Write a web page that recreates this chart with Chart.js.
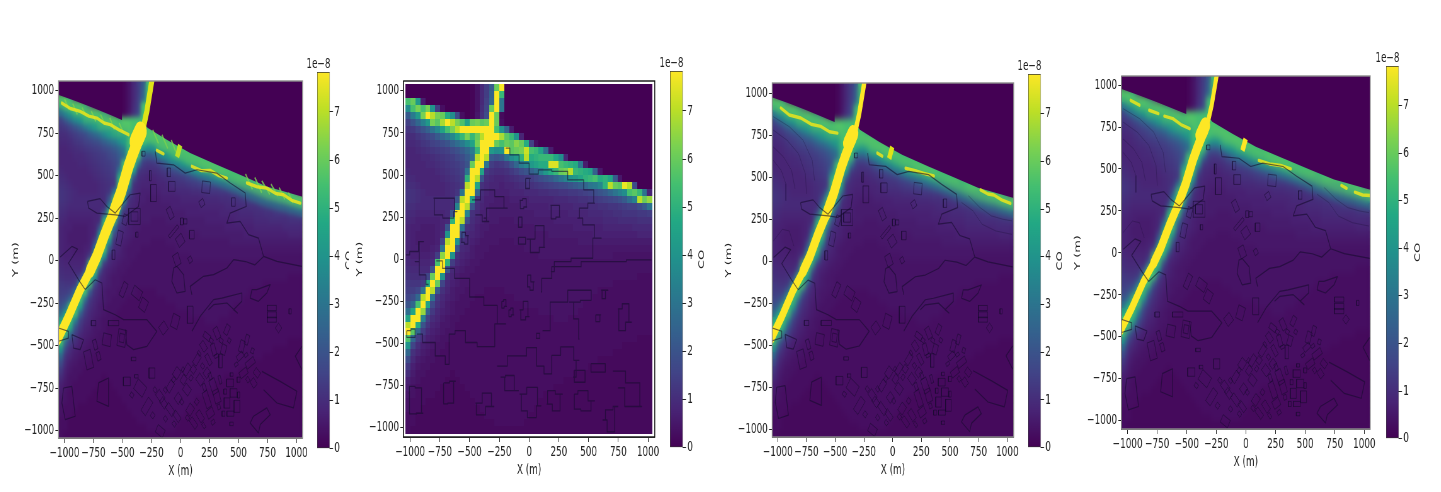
<!DOCTYPE html>
<html>
<head>
<meta charset="utf-8">
<title>CO concentration maps</title>
<script src="https://cdn.jsdelivr.net/npm/chart.js@4"></script>
<style>
  html, body { margin: 0; padding: 0; background: #fff; overflow: hidden; }
  #page { position: relative; width: 1441px; height: 492px; overflow: hidden; }
  canvas { position: absolute; transform-origin: 0 0; }
</style>
</head>
<body>
<div id="page"></div>
<script>
// CO field, 50 x 50 cells, north to south, west to east, in units of 1e-9
const coGrid = [
  [0,0,0,0,0,0,0,0,0,0,0,0,0,1,4,9,14,22,60,78,0,0,0,0,0,0,0,0,0,0,0,0,0,0,0,0,0,0,0,0,0,0,0,0,0,0,0,0,0,0],
  [0,0,0,0,0,0,0,0,0,0,0,0,0,1,4,9,14,24,78,52,0,0,0,0,0,0,0,0,0,0,0,0,0,0,0,0,0,0,0,0,0,0,0,0,0,0,0,0,0,0],
  [55,60,42,6,0,0,0,0,0,0,0,0,0,1,4,9,15,26,78,30,0,0,0,0,0,0,0,0,0,0,0,0,0,0,0,0,0,0,0,0,0,0,0,0,0,0,0,0,0,0],
  [38,55,62,55,62,40,14,3,0,0,0,0,0,1,4,10,16,60,78,30,0,0,0,0,0,0,0,0,0,0,0,0,0,0,0,0,0,0,0,0,0,0,0,0,0,0,0,0,0,0],
  [22,32,42,62,78,70,62,60,48,38,18,3,0,1,5,11,18,78,60,2,0,0,0,0,0,0,0,0,0,0,0,0,0,0,0,0,0,0,0,0,0,0,0,0,0,0,0,0,0,0],
  [15,20,26,34,42,62,58,68,78,70,62,56,45,60,62,58,60,78,60,3,0,0,0,0,0,0,0,0,0,0,0,0,0,0,0,0,0,0,0,0,0,0,0,0,0,0,0,0,0,0],
  [12,13,16,20,24,30,36,45,55,62,70,78,78,78,78,78,78,78,55,40,25,6,0,0,0,0,0,0,0,0,0,0,0,0,0,0,0,0,0,0,0,0,0,0,0,0,0,0,0,0],
  [10,10,12,14,16,18,22,26,30,36,44,52,62,52,60,70,78,78,78,68,58,52,40,8,0,0,0,0,0,0,0,0,0,0,0,0,0,0,0,0,0,0,0,0,0,0,0,0,0,0],
  [9,9,10,12,13,15,16,18,20,24,28,32,38,45,62,78,78,78,60,55,60,58,64,60,48,15,3,0,0,0,0,0,0,0,0,0,0,0,0,0,0,0,0,0,0,0,0,0,0,0],
  [8,8,9,10,11,12,13,14,15,17,19,22,26,32,52,78,78,42,38,40,78,58,60,62,72,55,52,45,28,6,0,0,0,0,0,0,0,0,0,0,0,0,0,0,0,0,0,0,0,0],
  [8,8,8,9,9,10,11,12,13,14,16,18,22,28,70,78,70,22,20,22,30,38,42,50,70,48,50,52,52,52,46,38,8,0,0,0,0,0,0,0,0,0,0,0,0,0,0,0,0,0],
  [8,8,8,8,9,9,10,11,12,13,14,16,20,60,78,78,30,14,12,13,15,20,26,32,36,42,45,48,48,74,74,55,52,50,48,30,6,0,0,0,0,0,0,0,0,0,0,0,0,0],
  [9,8,8,8,8,8,9,10,11,12,13,15,30,78,78,45,13,11,10,10,11,13,15,18,20,24,28,34,42,48,52,60,62,70,52,50,48,46,24,5,0,0,0,0,0,0,0,0,0,0],
  [10,9,8,8,8,8,8,9,10,11,12,14,50,78,70,20,10,9,8,8,9,10,11,12,13,14,16,18,20,22,26,30,34,40,42,46,50,52,55,48,50,46,22,5,0,0,0,0,0,0],
  [11,10,9,8,8,8,8,8,9,10,11,13,70,78,45,11,9,8,8,7,8,8,9,10,11,11,12,13,14,15,16,17,18,20,22,24,26,30,32,36,50,70,60,58,76,70,18,0,0,0],
  [12,11,10,9,8,8,8,8,9,10,12,30,78,78,25,10,8,7,7,7,7,8,8,8,9,9,9,10,10,11,11,12,12,13,13,14,15,16,18,20,22,26,30,34,38,55,58,52,30,8],
  [12,11,10,9,9,9,9,9,9,10,20,70,78,45,11,9,7,7,6,6,6,7,7,7,7,8,8,8,8,8,9,9,9,10,10,11,11,12,13,14,15,16,17,19,22,28,34,70,60,66],
  [11,10,9,9,9,9,9,9,9,10,35,78,70,20,10,8,7,6,6,6,6,6,6,7,7,7,7,7,7,8,8,8,8,8,9,9,9,10,10,11,11,12,12,13,14,15,15,18,22,30],
  [10,9,8,8,8,8,8,8,9,20,78,78,35,11,9,7,7,6,6,6,6,6,6,6,6,6,7,7,7,7,7,7,7,8,8,8,8,9,9,9,10,10,11,11,12,12,12,13,13,14],
  [9,8,7,7,7,7,7,8,9,50,78,70,18,10,8,7,6,6,6,5,5,5,6,6,6,6,6,6,6,6,7,7,7,7,7,7,8,8,8,8,9,9,9,10,10,10,10,11,11,11],
  [8,7,7,6,6,6,7,8,20,78,78,30,11,9,7,6,6,5,5,5,5,5,5,5,5,5,6,6,6,6,6,6,6,6,7,7,7,7,7,7,8,8,8,8,8,8,9,9,9,9],
  [8,7,6,6,6,6,7,9,40,78,78,18,9,8,7,6,5,5,5,5,5,5,5,5,5,5,5,5,5,6,6,6,6,6,6,6,6,6,7,7,7,7,7,7,7,7,7,8,8,8],
  [8,7,6,6,6,6,7,16,70,78,40,11,9,7,6,5,5,5,5,4,4,4,5,5,5,5,5,5,5,5,5,5,5,5,5,6,6,6,6,6,6,6,6,6,6,6,6,6,6,6],
  [8,7,7,6,6,7,8,30,78,78,20,9,8,6,5,5,5,4,4,4,4,4,4,4,5,5,5,5,5,5,5,5,5,5,5,5,5,5,5,5,5,5,5,5,5,5,5,5,5,5],
  [8,7,7,7,7,8,14,65,78,40,11,8,7,6,5,5,4,4,4,4,4,4,4,4,4,4,4,5,5,5,5,5,5,5,5,5,5,5,5,5,5,5,4,4,4,4,4,4,4,4],
  [9,8,8,8,8,10,55,78,50,14,9,7,6,5,5,4,4,4,4,4,4,4,4,4,4,4,4,4,4,4,4,4,4,4,4,4,4,4,4,4,4,4,4,4,4,4,4,4,4,4],
  [10,9,9,9,9,20,78,78,20,9,7,6,5,5,4,4,4,4,4,4,4,4,4,4,4,4,4,4,4,4,4,4,4,4,4,4,4,4,4,4,4,4,4,4,4,4,4,4,4,4],
  [11,10,10,11,16,60,78,40,11,8,6,5,5,4,4,4,4,4,4,4,4,4,4,4,4,4,4,4,4,4,4,4,4,4,4,4,4,4,4,4,4,4,4,4,4,4,4,3,3,3],
  [13,12,12,14,48,78,60,16,9,7,6,5,5,4,4,4,4,4,4,4,4,4,4,4,4,4,4,4,4,4,4,4,4,4,4,4,4,4,4,4,4,4,3,3,3,3,3,3,3,3],
  [14,14,16,30,78,70,22,11,8,6,5,5,4,4,4,4,3,3,3,3,4,4,4,4,4,4,4,4,4,4,4,4,4,4,4,4,4,4,4,3,3,3,3,3,3,3,3,3,3,3],
  [16,18,26,70,78,30,13,9,7,6,5,4,4,4,3,3,3,3,3,3,3,3,4,4,4,4,4,4,4,4,4,4,4,4,4,4,4,4,3,3,3,3,3,3,3,3,3,3,3,3],
  [20,26,55,78,45,17,11,8,6,5,4,4,4,3,3,3,3,3,3,3,3,3,3,3,4,4,4,4,4,4,4,4,4,4,4,4,3,3,3,3,3,3,3,3,3,3,3,3,3,3],
  [28,45,78,66,24,13,9,7,6,5,4,4,3,3,3,3,3,3,3,3,3,3,3,3,3,3,3,4,4,4,4,4,4,4,4,3,3,3,3,3,3,3,3,3,3,3,3,3,3,3],
  [45,78,78,34,15,10,8,6,5,4,4,3,3,3,3,3,3,3,3,3,3,3,3,3,3,3,3,3,3,3,4,4,4,3,3,3,3,3,3,3,3,3,3,3,3,3,3,3,3,3],
  [70,78,48,20,12,8,7,5,5,4,3,3,3,3,3,3,3,3,3,3,3,3,3,3,3,3,3,3,3,3,3,3,3,3,3,3,3,3,3,3,3,3,3,3,3,3,3,3,3,3],
  [78,58,26,14,9,7,6,5,4,4,3,3,3,3,3,3,3,3,3,3,3,3,3,3,3,3,3,3,3,3,3,3,3,3,3,3,3,3,3,3,3,3,3,3,3,3,3,3,3,3],
  [56,26,14,10,7,6,5,4,4,3,3,3,3,3,3,3,3,3,3,3,3,3,3,3,3,3,3,3,3,3,3,3,3,3,3,3,3,3,3,3,3,3,3,3,3,3,3,2,2,2],
  [40,16,10,7,6,5,4,4,3,3,3,3,3,3,3,3,3,3,3,3,3,3,3,3,3,3,3,3,3,3,3,3,3,3,3,3,3,3,3,3,3,3,3,3,2,2,2,2,2,2],
  [26,11,8,6,5,4,4,3,3,3,3,3,3,3,3,3,3,3,3,3,3,3,3,3,3,3,3,3,3,3,3,3,3,3,3,3,3,3,3,3,3,3,2,2,2,2,2,2,2,2],
  [18,9,6,5,4,4,3,3,3,3,3,3,3,3,3,3,3,3,3,3,3,3,3,3,3,3,3,3,3,3,3,3,3,3,3,3,3,3,3,2,2,2,2,2,2,2,2,2,2,2],
  [13,7,5,4,4,3,3,3,3,3,3,3,3,3,3,3,3,3,3,3,3,3,3,3,3,3,3,3,3,3,3,3,3,3,3,3,3,2,2,2,2,2,2,2,2,2,2,2,2,2],
  [10,6,4,4,3,3,3,3,3,2,3,3,3,3,3,3,3,3,3,3,3,3,3,3,3,3,3,3,3,3,3,3,3,3,2,2,2,2,2,2,2,2,2,2,2,2,2,2,2,2],
  [7,5,4,3,3,3,3,3,2,2,2,3,3,3,3,3,3,3,3,3,3,3,3,3,3,3,3,3,3,3,3,3,2,2,2,2,2,2,2,2,2,2,2,2,2,2,2,2,2,2],
  [6,4,3,3,3,3,3,2,2,2,2,2,3,3,3,3,3,3,3,3,3,3,3,3,3,3,3,3,3,3,2,2,2,2,2,2,2,2,2,2,2,2,2,2,2,2,2,2,2,2],
  [5,4,3,3,3,3,2,2,2,2,2,2,2,3,3,3,3,3,3,3,3,3,3,3,3,3,3,3,2,2,2,2,2,2,2,2,2,2,2,2,2,2,2,2,2,2,2,2,2,2],
  [4,3,3,3,2,2,2,2,2,2,2,2,2,2,3,3,3,3,3,3,3,3,3,3,3,3,3,2,2,2,2,2,2,2,2,2,2,2,2,2,2,2,2,2,2,2,2,2,2,2],
  [4,3,3,2,2,2,2,2,2,2,2,2,2,2,2,3,3,3,3,3,3,3,3,3,3,3,2,2,2,2,2,2,2,2,2,2,2,2,2,2,2,2,2,2,2,2,2,2,2,2],
  [3,3,2,2,2,2,2,2,2,2,2,2,2,2,2,2,3,3,3,3,3,3,3,3,3,2,2,2,2,2,2,2,2,2,2,2,2,2,2,2,2,2,2,2,2,2,2,2,2,2],
  [3,3,2,2,2,2,2,2,2,2,2,2,2,2,2,2,2,2,3,3,3,3,3,3,2,2,2,2,2,2,2,2,2,2,2,2,2,2,2,2,2,2,2,2,2,2,2,2,2,2],
  [3,2,2,2,2,2,2,2,2,2,2,2,2,2,2,2,2,2,2,2,2,2,2,2,2,2,2,2,2,2,2,2,2,2,2,2,2,2,2,2,2,2,2,2,2,2,2,2,2,2]
];

const axisTicks = [-1000, -750, -500, -250, 0, 250, 500, 750, 1000];
const colorbarTicks = [0, 1, 2, 3, 4, 5, 6, 7];
const colorbarMax = 7.83;
const viridisStops = ['#440154','#482475','#414487','#355f8d','#2a788e','#21918c','#22a884','#44bf70','#7ad151','#bddf26','#fde725'];

// road centreline in metres, split where the plume changes width
const roadNorth = [[-247,1060],[-290,880],[-319,790],[-350,730]];
const roadJunction = [[-345,760],[-385,700]];
const roadMiddle = [[-350,730],[-376,690],[-415,620],[-448,555],[-510,410],[-578,280]];
const roadSouthUpper = [[-578,280],[-650,160],[-720,30],[-780,-60]];
const roadSouthLower = [[-780,-60],[-865,-170],[-966,-330],[-1060,-465]];

// clean air north of the plume, west and east of the road
const cleanWest = [[-1060,978],[-894,937],[-750,898],[-578,849],[-505,828],[-505,1070],[-1060,1070]];
const cleanEast = [[-243,1070],[-305,800],[-285,782],[-118,711],[83,633],[313,564],[543,496],[744,437],[1060,375],[1060,1070]];

// broad plume along the coast road, centre of the bright part and of its teal skirt
const shoreBright = [
  [[-1052,945],[-894,905],[-750,868],[-578,818],[-430,775]],
  [[-285,750],[-118,680],[83,600],[313,535],[543,465],[744,405],[1060,345]]
];
const shoreSkirt = [
  [[-1052,900],[-894,860],[-750,822],[-578,772],[-450,735]],
  [[-285,705],[-118,635],[83,555],[313,490],[543,420],[744,360],[1060,300]]
];

const spikeFirst = [[-3,680],[-30,610]];
const streaksFirst = [
  [[-1023,927],[-950,895],[-865,878],[-790,850],[-721,839],[-660,810],[-606,800],[-530,770],[-448,741]],
  [[-204,649],[-147,629]],
  [[98,555],[180,530],[256,531],[330,500],[399,486]],
  [[572,457],[660,435],[744,427],[820,395],[888,388],[960,355],[1032,339]]
];
const hatchFirst = [
  [[-1000,950],[-960,890]],[[-930,925],[-890,860]],[[-850,900],[-810,850]],[[-770,880],[-730,820]],
  [[-690,860],[-650,800]],[[-610,840],[-570,770]],[[-530,810],[-490,750]],[[-240,770],[-190,690]],
  [[-160,740],[-110,660]],[[-80,710],[-40,640]],[[560,510],[620,420]],[[640,490],[700,400]],
  [[700,470],[770,390]],[[780,450],[840,380]],[[850,430],[900,360]],[[930,400],[970,340]]
];
const streaksThird = [
  [[-974,911],[-900,870],[-800,852],[-710,815],[-626,802],[-550,770],[-481,762]],
  [[-133,643],[-90,625]],
  [[113,553],[190,540],[273,523],[360,507]],
  [[766,424],[830,400],[882,394],[950,365],[1027,344]]
];
const streaksFourth = [
  [[-975,909],[-900,880]],[[-818,850],[-740,830]],[[-690,815],[-618,800],[-550,765],[-476,740]],
  [[108,551],[200,530],[293,521],[379,501]],
  [[806,402],[850,385]],[[920,362],[985,345],[1049,342]]
];

// isolines of the site, in metres
const contourLines = [
  [[-218,643],[-204,574],[-60,564],[40,515],[141,535],[313,515],[428,457],[558,398],[566,319],[428,280],[399,221],[514,231],[586,153],[672,133],[716,25],[831,-4],[1046,-33]],
  [[98,-200],[83,-151],[198,-92],[285,-82],[400,-43],[457,6],[560,-5],[640,-25],[716,25]],
  [[98,-415],[170,-327],[285,-229],[356,-220],[529,-190],[529,-239],[457,-288],[491,-308],[400,-249],[285,-259],[241,-288]],
  [[658,-170],[773,-141],[744,-190],[672,-239],[601,-220],[615,-170],[658,-170]],
  [[-32,-33],[26,-82],[40,-180],[-32,-190],[-75,-122],[-60,-43],[-32,-33]],
  [[-822,-170],[-736,-112],[-678,-131],[-664,-288],[-563,-318],[-491,-347],[-290,-347],[-204,-416],[-290,-504],[-405,-523],[-463,-494],[-477,-406]],
  [[-802,349],[-693,365],[-635,319],[-563,280],[-434,388],[-348,398],[-362,319],[-477,261],[-560,270],[-721,280],[-793,310],[-802,349]],
  [[-1037,22],[-937,84],[-888,69],[-966,-14],[-879,-112],[-822,-170]],
  [[-1009,-749],[-937,-739],[-908,-915],[-994,-935],[-1023,-837],[-1009,-749]],
  [[-937,-435],[-836,-465],[-865,-523],[-922,-514],[-937,-435]],
  [[-707,-719],[-621,-690],[-621,-857],[-721,-827],[-707,-719]],
  [[-1052,-396],[-966,-416],[-966,-455],[-1052,-474]],
  [[701,-651],[859,-710],[1003,-768],[974,-866],[831,-837],[716,-759]],
  [[629,-915],[744,-866],[773,-906],[687,-964],[672,-1013],[600,-955],[629,-915]],
  [[1046,-504],[989,-562],[1046,-641]]
];

// building outlines: centre x, centre y, width, height, turn in degrees
const buildingBoxes = [
  [-100,520,30,50,0],[-75,437,55,58,0],[220,432,70,68,-5],[184,339,40,40,30],[457,345,30,50,0],[-397,260,100,95,0],[-397,260,60,55,0],
  [-89,280,40,70,30],[-60,172,100,20,40],[11,231,25,40,0],[40,231,30,30,0],[-3,120,60,60,35],[98,153,40,50,0],[-32,6,50,70,25],[83,6,30,35,30],
  [-526,133,45,85,-15],[-578,35,25,55,0],[-477,241,40,60,-20],[-376,153,20,30,0],[-233,398,50,100,0],[-319,629,28,28,0],[-260,500,15,60,0],
  [-491,-170,40,90,-30],[-376,-190,80,60,-30],[-319,-259,60,70,-30],[-750,-367,40,30,0],[-578,-367,90,30,0],[-506,-455,70,100,-10],[-506,-455,40,50,-10],
  [-635,-465,70,70,-10],[-736,-494,30,60,20],[-793,-582,60,110,15],[-707,-562,30,50,20],[-405,-578,40,20,0],[-147,-396,60,60,40],[-46,-357,60,80,-20],
  [83,-318,50,100,0],[-247,-661,50,60,0],[-463,-710,60,50,0],[-348,-749,90,70,-35],[-290,-857,100,50,50],[-175,-1003,70,50,-30],
  [787,-278,80,30,0],[787,-318,80,35,0],[787,-347,80,30,0],[845,-396,40,40,45],[945,-298,20,30,0],
  [227,-445,60,35,-30],[313,-426,70,40,-60],[400,-406,60,35,60],[198,-504,60,40,-50],[285,-523,70,35,-70],[371,-523,60,40,70],[241,-582,70,30,-55],[345,-590,30,80,0],
  [529,-504,40,70,-20],[572,-465,30,60,-20],[514,-562,60,35,35],[601,-601,80,40,30],[658,-660,50,40,-40],[543,-660,70,40,30],[630,-719,50,40,-50],
  [428,-719,60,45,0],[457,-778,60,50,0],[400,-837,50,60,0],[486,-857,50,70,0],[430,-900,60,30,0],
  [285,-739,50,90,25],[227,-817,45,100,25],[313,-798,50,80,20],[169,-915,70,40,-50],[256,-896,60,50,30],[112,-955,70,35,-45],[83,-876,50,60,-40],
  [55,-641,70,40,50],[141,-582,70,40,50],[-32,-661,60,50,50],[-89,-739,70,40,50],[55,-758,60,50,-40],[-175,-798,70,45,-45],[-89,-876,80,40,-45],
  [-147,-837,60,40,-45],[-32,-915,70,35,-45],[26,-700,50,40,50],[169,-700,50,60,45],[227,-660,50,45,45],[110,-640,40,40,50],[-20,-810,50,50,-45],
  [265,-470,30,25,-30],[350,-470,25,30,60],[160,-545,30,20,-50],[310,-560,20,35,-70],[420,-470,25,25,60],[190,-620,25,30,45],[90,-690,30,25,50],
  [20,-640,25,20,50],[-60,-700,30,25,50],[-130,-760,30,25,-45],[10,-830,30,25,-45],[-55,-960,30,25,-45],[60,-925,30,25,-40],[140,-830,30,30,-40],
  [205,-745,25,45,25],[255,-680,25,40,25],[340,-700,20,50,20],[385,-770,25,30,0],[440,-670,25,20,0],[500,-700,25,30,0],[500,-790,20,35,0],
  [440,-960,30,20,0],[370,-900,25,30,0],[200,-970,35,20,-50],[280,-950,30,25,30],[330,-860,25,30,20],[480,-610,30,20,30],[565,-555,30,20,30],
  [620,-530,25,30,-20],[580,-700,30,25,-50],[-220,-760,30,25,-45],[-240,-910,30,30,50],[-380,-680,30,20,0],[-420,-790,30,25,-35],[-130,-930,30,25,-45]
];

// fine ripples that show in the higher resolution runs
const rippleLines = [
  [[-1040,860],[-900,800],[-780,720],[-700,600],[-680,480]],
  [[-1040,780],[-920,720],[-820,640],[-760,520],[-750,400]],
  [[-1040,680],[-950,620],[-880,540],[-850,430]],
  [[-1040,600],[-970,540],[-930,460],[-930,360]],
  [[600,350],[700,300],[780,220],[900,180],[1040,160]],
  [[660,390],[760,320],[860,270],[960,250],[1040,240]],
  [[-1040,120],[-960,190],[-900,180],[-860,90]]
];

// the same isolines as they come out on the coarse grid
const coarseContours = [
  [[-197,659],[-127,620],[-42,570],[42,505],[113,531],[268,521],[381,471],[536,412],[550,333],[437,303],[409,244],[493,204],[606,125],[465,6],[240,-14],[183,-73]],
  [[-804,362],[-649,362],[-606,283],[-662,244],[-789,263],[-804,362]],
  [[-479,352],[-338,412],[-240,372],[-183,303],[-338,303],[-380,244],[-338,224],[-451,263]],
  [[-1035,26],[-973,46],[-888,105],[-959,-14],[-888,-93],[-846,-150]],
  [[-1001,-754],[-916,-764],[-893,-914],[-1001,-918],[-1010,-794],[-1001,-754]],
  [[-719,-734],[-620,-724],[-649,-854],[-719,-858],[-719,-734]],
  [[-1029,-424],[-959,-414],[-959,-464],[-1029,-464],[-1029,-424]],
  [[-945,-444],[-846,-494],[-733,-574],[-677,-624],[-668,-444],[-578,-424],[-493,-494],[-381,-518],[-197,-384],[-338,-274],[-423,-224],[-578,-114],[-677,-54],[-780,-10]],
  [[99,-194],[113,-114],[268,-44],[606,-14],[1029,-4]],
  [[113,-424],[240,-254],[409,-184],[522,-184],[522,-244],[338,-254],[409,-354],[423,-474]],
  [[-14,-94],[42,-134],[28,-184],[-14,-164],[-14,-94]],
  [[747,-294],[818,-264],[860,-374],[761,-424],[747,-294]],
  [[606,-184],[663,-184],[620,-234],[606,-184]],
  [[-268,-634],[-99,-574],[56,-524],[70,-634],[180,-680],[200,-570],[330,-520],[420,-600],[370,-700]],
  [[380,-660],[470,-660],[470,-730],[380,-730],[380,-660]],
  [[520,-620],[640,-620],[640,-670],[520,-670],[520,-620]],
  [[705,-664],[916,-734],[945,-874],[860,-874],[747,-764]],
  [[663,-894],[747,-874],[691,-1024],[620,-954],[663,-894]],
  [[380,-800],[380,-890],[490,-900],[550,-840],[440,-780],[380,-800]],
  [[-451,-854],[-437,-924],[-296,-874],[-338,-794],[-451,-854]],
  [[-240,-700],[-160,-690],[-90,-780],[-170,-780],[-240,-700]],
  [[-80,-800],[40,-760],[100,-870],[20,-940],[-50,-900],[-80,-800]],
  [[160,-780],[280,-800],[240,-900],[150,-860],[160,-780]],
  [[-80,-300],[-20,-250],[0,-340],[-60,-360],[-80,-300]],
  [[-30,480],[10,480],[0,420],[-30,420],[-30,480]],
  [[-80,350],[-30,360],[-20,310],[-70,300],[-80,350]],
  [[180,320],[250,320],[260,250],[190,240],[180,320]],
  [[-90,250],[-60,250],[-60,190],[-90,190],[-90,250]],
  [[-90,130],[-30,130],[-30,90],[-90,90],[-90,130]],
  [[-20,120],[120,200],[130,70],[40,40],[-20,120]],
  [[-560,160],[-510,140],[-520,90],[-570,100],[-560,160]],
  [[-230,-250],[-200,-240],[-190,-280],[-230,-290],[-230,-250]],
  [[-170,-300],[-140,-290],[-130,-330],[-170,-340],[-170,-300]],
  [[60,-440],[90,-440],[90,-470],[60,-470],[60,-440]],
  [[560,-330],[600,-330],[590,-370],[560,-370],[560,-330]]
];

// figure layout in page pixels; text is set wide and the canvas squeezed sideways
const squeeze = 0.63;
const panels = [
  { plot: { left: 58, right: 302, top: 81, bottom: 438 }, xRange: [-1052, 1052], yRange: [-1043, 1057], extent: 1052, yTitleX: 15,
    bar: { left: 317, right: 330, top: 71.7, bottom: 449 }, blur: 2.5, frame: '#8c8c8c', streaks: streaksFirst, hatch: hatchFirst, spike: '#bddf26', road: 1, ceiling: 55, coClip: 349 },
  { plot: { left: 403, right: 654, top: 81, bottom: 437 }, xRange: [-1056, 1056], yRange: [-1055, 1058], extent: 1035, yTitleX: 359,
    bar: { left: 670, right: 683, top: 70.7, bottom: 448 }, blur: 0, frame: '#111111', coarse: true, ceiling: 78 },
  { plot: { left: 771.7, right: 1013.3, top: 83.3, bottom: 437.7 }, xRange: [-1049, 1055], yRange: [-1045, 1060], extent: 1052, yTitleX: 728,
    bar: { left: 1028, right: 1040.7, top: 74.3, bottom: 448 }, blur: 3, frame: '#8c8c8c', streaks: streaksThird, ripples: true, spike: '#dfe318', road: 0.85, ceiling: 55 },
  { plot: { left: 1121, right: 1370, top: 76, bottom: 429.3 }, xRange: [-1052, 1050], yRange: [-1049, 1054], extent: 1052, yTitleX: 1077,
    bar: { left: 1385.7, right: 1398.7, top: 66, bottom: 439.3 }, blur: 3, frame: '#8c8c8c', streaks: streaksFourth, ripples: true, spike: '#fde725', road: 0.8, ceiling: 55 }
];

const fontFamily = '"DejaVu Sans", sans-serif';
const tickFont = { family: fontFamily, size: 14 };
const plotTopGap = 14;

function hexToRgb(hex) {
  return [1, 3, 5].map(i => parseInt(hex.slice(i, i + 2), 16));
}

function viridis(t) {
  const pos = Math.min(Math.max(t, 0), 1) * (viridisStops.length - 1);
  const i = Math.min(Math.floor(pos), viridisStops.length - 2);
  const a = hexToRgb(viridisStops[i]), b = hexToRgb(viridisStops[i + 1]);
  const f = pos - i;
  return `rgb(${a.map((c, k) => Math.round(c + (b[k] - c) * f)).join(',')})`;
}

// cells are drawn as small canvases so they can be wider than they are tall
const tiles = new Map();
function heatTile(chart, value, cell) {
  const w = Math.ceil(Math.abs(chart.scales.x.getPixelForValue(cell) - chart.scales.x.getPixelForValue(0))) + 1;
  const h = Math.ceil(Math.abs(chart.scales.y.getPixelForValue(cell) - chart.scales.y.getPixelForValue(0))) + 1;
  const key = `${w}x${h}:${value}`;
  if (!tiles.has(key)) {
    const tile = document.createElement('canvas');
    tile.width = w;
    tile.height = h;
    const c = tile.getContext('2d');
    c.fillStyle = viridis(value / (colorbarMax * 10));
    c.fillRect(0, 0, w, h);
    tiles.set(key, tile);
  }
  return tiles.get(key);
}

function heatPoints(extent) {
  const cell = 2 * extent / coGrid[0].length;
  const points = [];
  coGrid.forEach((row, j) => row.forEach((v, i) => {
    points.push({ x: -extent + (i + 0.5) * cell, y: extent - (j + 0.5) * cell, v });
  }));
  return points;
}

// several paths in one dataset, split by empty points
function pathPoints(paths) {
  const points = [];
  paths.forEach(path => {
    path.forEach(p => points.push({ x: p[0], y: p[1] }));
    points.push({ x: null, y: null });
  });
  return points;
}

function boxPaths(boxes) {
  return boxes.map(([cx, cy, w, h, turn]) => {
    const a = turn * Math.PI / 180;
    return [[-1, -1], [1, -1], [1, 1], [-1, 1], [-1, -1]].map(([sx, sy]) => {
      const dx = sx * w / 2, dy = sy * h / 2;
      return [cx + dx * Math.cos(a) - dy * Math.sin(a), cy + dx * Math.sin(a) + dy * Math.cos(a)];
    });
  });
}

function lineSet(paths, color, width, order, extra) {
  return Object.assign({
    data: pathPoints(paths), showLine: true, pointRadius: 0, borderColor: color, borderWidth: width,
    borderCapStyle: 'butt', borderJoinStyle: 'round', order, tension: 0
  }, extra || {});
}

function cleanAirSet(shape) {
  return {
    data: shape.map(p => ({ x: p[0], y: p[1] })), showLine: true, pointRadius: 0, borderWidth: 0,
    borderColor: 'rgba(0,0,0,0)', backgroundColor: viridisStops[0], fill: 'shape', order: 40, tension: 0
  };
}

// softens everything drawn so far inside the plot, once the flagged dataset is done
const softenHeat = {
  id: 'softenHeat',
  afterDatasetDraw(chart, args, opts) {
    if (!chart.data.datasets[args.index].softenAfter || !opts.blur) return;
    const { ctx, chartArea: a } = chart;
    ctx.save();
    ctx.beginPath();
    ctx.rect(a.left, a.top, a.width, a.height);
    ctx.clip();
    ctx.filter = `blur(${opts.blur}px)`;
    ctx.drawImage(chart.canvas, a.left, a.top, a.width, a.height, a.left, a.top, a.width, a.height);
    ctx.restore();
  }
};

const plotFrame = {
  id: 'plotFrame',
  afterDraw(chart, args, opts) {
    const { ctx, chartArea: a } = chart;
    ctx.save();
    ctx.strokeStyle = opts.color;
    ctx.lineWidth = 1.4;
    ctx.strokeRect(a.left, a.top, a.width, a.height);
    ctx.restore();
  }
};

const barLabels = {
  id: 'barLabels',
  afterDraw(chart, args, opts) {
    const { ctx, chartArea: a } = chart;
    ctx.save();
    ctx.fillStyle = '#222';
    ctx.font = `14px ${fontFamily}`;
    ctx.textAlign = 'right';
    ctx.textBaseline = 'bottom';
    ctx.fillText('1e\u22128', a.right + 1, a.top - 1);
    if (opts.clip) {
      ctx.beginPath();
      ctx.rect(0, 0, opts.clip, chart.height);
      ctx.clip();
    }
    ctx.translate(opts.x, (a.top + a.bottom) / 2);
    ctx.rotate(-Math.PI / 2);
    ctx.font = `13px ${fontFamily}`;
    ctx.textAlign = 'center';
    ctx.textBaseline = 'middle';
    ctx.fillText('CO', 0, 0);
    ctx.restore();
  }
};

function addCanvas(left, top, width, height) {
  const canvas = document.createElement('canvas');
  canvas.width = Math.round(width / squeeze);
  canvas.height = Math.round(height);
  canvas.style.left = left + 'px';
  canvas.style.top = top + 'px';
  canvas.style.width = canvas.width + 'px';
  canvas.style.height = canvas.height + 'px';
  canvas.style.transform = `scaleX(${squeeze})`;
  document.getElementById('page').appendChild(canvas);
  return canvas;
}

function axisOptions(extra) {
  return Object.assign({
    type: 'linear',
    afterBuildTicks: scale => { scale.ticks = axisTicks.map(value => ({ value })); },
    grid: { drawOnChartArea: false, drawTicks: true, tickLength: 5, color: '#222' },
    border: { display: true, color: '#555' },
    ticks: {
      font: tickFont, color: '#222', padding: 2, autoSkip: false, maxRotation: 0, minRotation: 0,
      callback: v => String(v).replace('-', '\u2212')
    }
  }, extra);
}

function drawPanel(panel) {
  const { plot } = panel;
  const cell = 2 * panel.extent / coGrid[0].length;
  const left = panel.yTitleX - 4.5;
  const canvas = addCanvas(left, plot.top - plotTopGap, plot.right + 14 - left, plot.bottom - plot.top + plotTopGap + 42);

  // the smooth runs top the field out below the colour bar's end, the road lines carry the peak
  const datasets = [{
    data: heatPoints(panel.extent), order: 50, pointRadius: 1, borderWidth: 0, pointBorderWidth: 0,
    pointStyle: ctx => (ctx.raw ? heatTile(ctx.chart, Math.min(ctx.raw.v, panel.ceiling), cell) : 'rect')
  }];

  const lineColor = 'rgba(22,12,45,0.6)';
  if (panel.coarse) {
    datasets.push(lineSet(coarseContours, lineColor, 1.3, 1, { stepped: 'middle' }));
  } else {
    const k = panel.road;
    const yellow = '#fde725';
    const round = { borderCapStyle: 'round' };
    datasets.push(lineSet(shoreSkirt, 'rgba(33,145,140,0.45)', 16, 46));
    datasets.push(lineSet(shoreBright, 'rgba(94,201,98,0.6)', 14, 45, { softenAfter: true }));
    datasets.push(cleanAirSet(cleanWest));
    datasets.push(cleanAirSet(cleanEast));
    if (panel.ripples) datasets.push(lineSet(rippleLines, 'rgba(22,12,45,0.28)', 1, 9));
    if (panel.hatch) datasets.push(lineSet(panel.hatch, 'rgba(122,209,81,0.8)', 2, 8));
    datasets.push(lineSet(panel.streaks, 'rgba(236,229,27,0.85)', 3.4, 7, round));
    datasets.push(lineSet([spikeFirst], panel.spike, 7, 6));
    datasets.push(lineSet([roadNorth], panel.blur === 2.5 ? '#dfe318' : yellow, 8 * k, 5, round));
    datasets.push(lineSet([roadJunction], yellow, 20 * k, 4, round));
    datasets.push(lineSet([roadMiddle], yellow, 15.5 * k, 3, round));
    datasets.push(lineSet([roadSouthUpper], yellow, 14 * k, 3, round));
    datasets.push(lineSet([roadSouthLower], yellow, 11.5 * k, 3, round));
    datasets.push(lineSet(boxPaths(buildingBoxes), lineColor, 0.9, 2));
    datasets.push(lineSet(contourLines, lineColor, 1.2, 1));
  }

  new Chart(canvas, {
    type: 'scatter',
    data: { datasets },
    plugins: [softenHeat, plotFrame],
    options: {
      responsive: false,
      animation: false,
      events: [],
      devicePixelRatio: 1,
      layout: { autoPadding: false, padding: { left: 0, right: 14 / squeeze, top: plotTopGap, bottom: 0 } },
      plugins: {
        legend: { display: false },
        tooltip: { enabled: false },
        softenHeat: { blur: panel.blur },
        plotFrame: { color: panel.frame }
      },
      scales: {
        x: axisOptions({
          min: panel.xRange[0], max: panel.xRange[1],
          title: { display: true, text: 'X (m)', font: { family: fontFamily, size: 14 }, color: '#222', padding: 0 },
          afterFit: scale => { scale.height = 42; }
        }),
        y: axisOptions({
          min: panel.yRange[0], max: panel.yRange[1],
          title: { display: true, text: 'Y (m)', font: { family: fontFamily, size: 13 }, color: '#222', padding: 0 },
          afterFit: scale => { scale.width = (plot.left - left) / squeeze; }
        })
      }
    }
  });
}

function drawColorbar(panel) {
  const { bar } = panel;
  const left = bar.left - 12;
  const canvas = addCanvas(left, bar.top - 18, bar.right + 30 - left, bar.bottom - bar.top + 18 + 10);
  new Chart(canvas, {
    type: 'bar',
    data: {
      labels: ['CO'],
      datasets: [{
        data: [[0, colorbarMax]],
        barPercentage: 1,
        categoryPercentage: 1,
        borderWidth: 1,
        borderSkipped: false,
        borderColor: '#333',
        backgroundColor: ctx => {
          const a = ctx.chart.chartArea;
          if (!a) return viridisStops[0];
          const g = ctx.chart.ctx.createLinearGradient(0, a.bottom, 0, a.top);
          viridisStops.forEach((c, i) => g.addColorStop(i / (viridisStops.length - 1), c));
          return g;
        }
      }]
    },
    plugins: [barLabels],
    options: {
      responsive: false,
      animation: false,
      events: [],
      devicePixelRatio: 1,
      layout: { autoPadding: false, padding: { left: 12 / squeeze, right: 0, top: 18, bottom: 10 } },
      plugins: {
        legend: { display: false },
        tooltip: { enabled: false },
        barLabels: {
          x: (bar.right + 19 - left) / squeeze,
          clip: panel.coClip ? (panel.coClip - left) / squeeze : 0
        }
      },
      scales: {
        x: { display: false },
        y: {
          position: 'right',
          min: 0,
          max: colorbarMax,
          afterBuildTicks: scale => { scale.ticks = colorbarTicks.map(value => ({ value })); },
          afterFit: scale => { scale.width = 30 / squeeze; },
          grid: { drawOnChartArea: false, drawTicks: true, tickLength: 5, color: '#222' },
          border: { display: false },
          ticks: { font: tickFont, color: '#222', padding: 2 }
        }
      }
    }
  });
}

panels.forEach(panel => {
  drawPanel(panel);
  drawColorbar(panel);
});
</script>
</body>
</html>
